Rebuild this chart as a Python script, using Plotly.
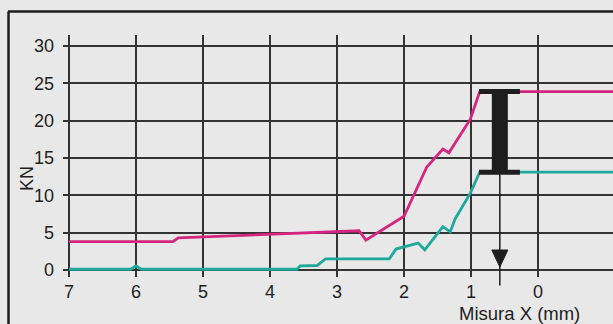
import plotly.graph_objects as go

# --- data -------------------------------------------------------------
upper_x = [7.0, 5.45, 5.37, 4.0, 3.0, 2.67, 2.57, 2.0, 1.66, 1.42, 1.33, 1.01, 0.87, -1.2]
upper_kn = [3.8, 3.8, 4.3, 4.75, 5.05, 5.25, 4.0, 7.2, 13.8, 16.2, 15.7, 20.2, 23.9, 23.9]

lower_x = [7.0, 6.08, 6.0, 5.92, 3.6, 3.55, 3.3, 3.17, 2.22, 2.12, 1.79, 1.69, 1.42,
           1.31, 1.24, 1.01, 0.87, -1.2]
lower_kn = [0.1, 0.1, 0.55, 0.1, 0.1, 0.55, 0.6, 1.5, 1.5, 2.8, 3.6, 2.7, 5.8,
            5.1, 6.8, 10.3, 13.1, 13.1]

x_ticks = [7, 6, 5, 4, 3, 2, 1, 0]
x_tick_labels = ["7", "6", "5", "4", "3", "2", "1", "0"]
y_ticks = [0, 5, 10, 15, 20, 25, 30]

# I-beam marker showing the force band at the chosen measure
band_x = 0.57
band_low = 13.1
band_high = 23.9
arrow_end = -2.28

# --- styling ----------------------------------------------------------
W, H = 613, 324
L, R, T, B = 63, 0, 35, 47
BG = "#e8e8e8"
GRID = "#333333"
INK = "#1e1e1e"
MAGENTA = "#d6257f"
TEAL = "#1fa99c"
FONT = "Liberation Sans, Arial, sans-serif"


def px_x(px):
    return (px - L) / (W - L - R)


def px_y(py):
    return (H - B - py) / (H - T - B)


fig = go.Figure()

fig.add_trace(go.Scatter(x=upper_x, y=upper_kn, mode="lines",
                         line=dict(color=MAGENTA, width=2.8), showlegend=False))
fig.add_trace(go.Scatter(x=lower_x, y=lower_kn, mode="lines",
                         line=dict(color=TEAL, width=2.8), showlegend=False))

# I-beam: stem and caps
fig.add_trace(go.Scatter(x=[band_x, band_x], y=[band_low, band_high], mode="lines",
                         line=dict(color=INK, width=16), showlegend=False))
for level in (band_low, band_high):
    fig.add_trace(go.Scatter(x=[band_x + 0.31, band_x - 0.30], y=[level, level],
                             mode="lines", line=dict(color=INK, width=5),
                             showlegend=False))

# pointer line down to the axis, with its triangle head
fig.add_annotation(x=band_x, y=band_low, ax=band_x, ay=arrow_end,
                   xref="x", yref="y", axref="x", ayref="y",
                   text="", showarrow=True, arrowhead=0,
                   arrowwidth=1.5, arrowcolor=INK)
fig.add_shape(type="path", xref="x", yref="y",
              path=(f"M {band_x - 0.12} 2.68 L {band_x + 0.12} 2.68 "
                    f"L {band_x} 0.4 Z"),
              fillcolor=INK, line=dict(color=INK, width=1))

# frame
fig.add_shape(type="line", xref="paper", yref="paper",
              x0=px_x(8), x1=px_x(W + 5), y0=px_y(11.5), y1=px_y(11.5),
              line=dict(color=INK, width=2.5))
fig.add_shape(type="line", xref="paper", yref="paper",
              x0=px_x(8.5), x1=px_x(8.5), y0=px_y(11.5), y1=px_y(H + 5),
              line=dict(color=INK, width=2.5))

# axis titles
fig.add_annotation(x=px_x(27), y=px_y(179), xref="paper", yref="paper",
                   xanchor="center", yanchor="middle",
                   text="KN", textangle=-90, showarrow=False,
                   font=dict(size=18, color=INK, family=FONT))
fig.add_annotation(x=px_x(519), y=px_y(313), xref="paper", yref="paper",
                   xanchor="center", yanchor="middle",
                   text="Misura X (mm)", showarrow=False,
                   font=dict(size=18.5, color=INK, family=FONT))

fig.update_layout(
    width=W, height=H,
    margin=dict(l=L, r=R, t=T, b=B, pad=0),
    paper_bgcolor=BG, plot_bgcolor=BG,
    font=dict(family=FONT, size=18, color=INK),
    xaxis=dict(range=[7.0896, -1.119], tickvals=x_ticks, ticktext=x_tick_labels,
               showgrid=True, gridcolor=GRID, gridwidth=1.6, zeroline=False,
               showline=False, ticks="", ticklabelstandoff=2, fixedrange=True),
    yaxis=dict(range=[-0.9375, 31.47], tickvals=y_ticks,
               showgrid=True, gridcolor=GRID, gridwidth=1.6, zeroline=False,
               showline=False, ticks="", ticklabelstandoff=8, fixedrange=True),
)

fig.write_html("out.html")
